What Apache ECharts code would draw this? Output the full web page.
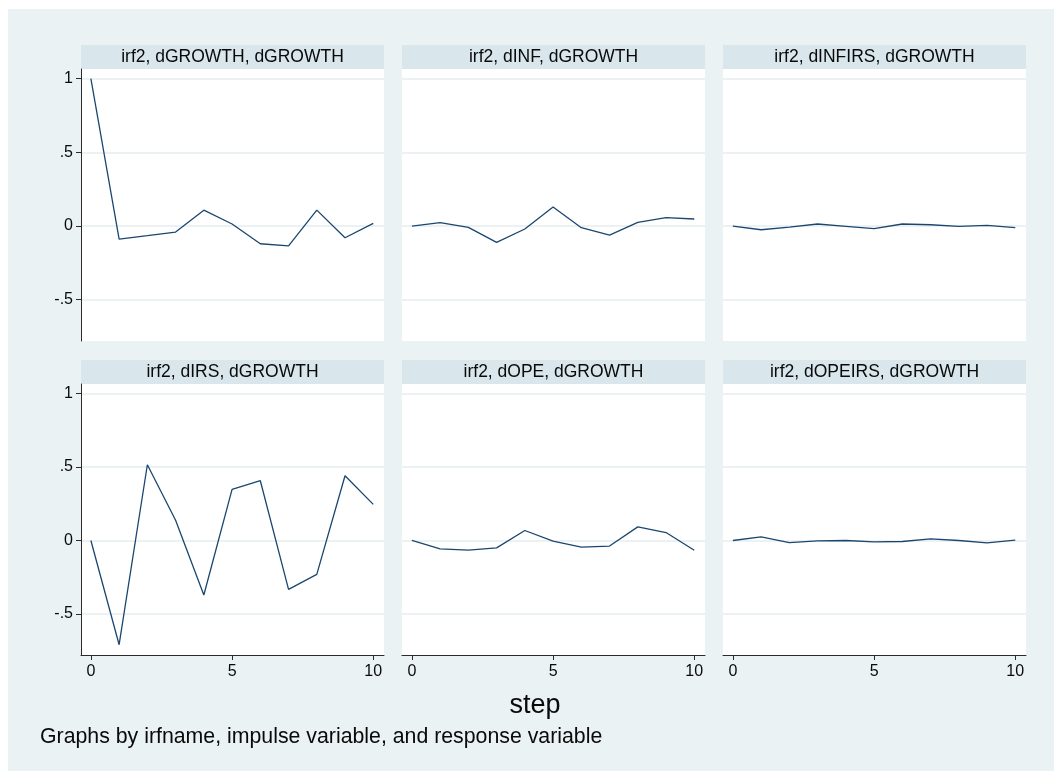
<!DOCTYPE html>
<html>
<head>
<meta charset="utf-8">
<script src="https://cdn.jsdelivr.net/npm/echarts@6/dist/echarts.min.js"></script>
<style>
  html, body { margin: 0; padding: 0; background: #ffffff; }
  #chart { position: absolute; left: 8px; top: 9px; width: 1046px; height: 762px; }
</style>
</head>
<body>
<div id="chart"></div>
<script>
// ---- data ----
const steps = [0, 1, 2, 3, 4, 5, 6, 7, 8, 9, 10];
const panelTitles = [
  'irf2, dGROWTH, dGROWTH', 'irf2, dINF, dGROWTH', 'irf2, dINFIRS, dGROWTH',
  'irf2, dIRS, dGROWTH', 'irf2, dOPE, dGROWTH', 'irf2, dOPEIRS, dGROWTH'
];
const irfGrowth   = [1.0, -0.088, -0.065, -0.041, 0.108, 0.014, -0.120, -0.134, 0.108, -0.079, 0.018];
const irfInf      = [0.0, 0.023, -0.009, -0.111, -0.020, 0.129, -0.011, -0.061, 0.025, 0.057, 0.048];
const irfInfIrs   = [0.0, -0.025, -0.007, 0.014, -0.002, -0.018, 0.014, 0.009, -0.002, 0.005, -0.011];
const irfIrs      = [0.0, -0.710, 0.516, 0.138, -0.371, 0.348, 0.407, -0.333, -0.231, 0.441, 0.246];
const irfOpe      = [0.0, -0.057, -0.066, -0.050, 0.068, -0.005, -0.045, -0.038, 0.093, 0.054, -0.066];
const irfOpeIrs   = [0.0, 0.025, -0.014, -0.002, 0.0, -0.009, -0.007, 0.011, 0.0, -0.016, 0.002];
const xTickValues = [0, 5, 10];
const xTickLabels = ['0', '5', '10'];
const yTickValues = [-0.5, 0, 0.5, 1];
const yTickLabels = ['-.5', '0', '.5', '1'];
const xAxisTitle = 'step';
const noteText = 'Graphs by irfname, impulse variable, and response variable';

// ---- layout ----
const panelSeries = [irfGrowth, irfInf, irfInfIrs, irfIrs, irfOpe, irfOpeIrs];
const colLeft = [73, 394, 715];
const colWidth = 303;
const rowTop = [60, 375];
const rowHeight = [272, 271];
const headerH = 24;
const FONT = '"Liberation Sans", Arial, Helvetica, sans-serif';
const lineColor = '#1a476f';
const axisColor = '#2b2b2b';
const gridColor = '#e6eef1';
const textColor = '#0a0a0a';

const grids = [], xAxes = [], yAxes = [], series = [], graphics = [];
for (let i = 0; i < 6; i++) {
  const r = Math.floor(i / 3), c = i % 3;
  const bottomRow = r === 1, firstCol = c === 0;
  grids.push({
    left: colLeft[c], top: rowTop[r], width: colWidth, height: rowHeight[r],
    show: true, backgroundColor: '#ffffff', borderWidth: 0, containLabel: false
  });
  xAxes.push({
    type: 'value', gridIndex: i, min: -0.35, max: 10.38,
    axisLine: { show: bottomRow, onZero: false, lineStyle: { color: axisColor, width: 1 } },
    axisTick: { show: bottomRow, length: 5, customValues: xTickValues, lineStyle: { color: axisColor, width: 1 } },
    axisLabel: {
      show: bottomRow, customValues: xTickValues, margin: 9,
      fontFamily: FONT, fontSize: 16, color: textColor,
      formatter: v => xTickLabels[xTickValues.indexOf(v)]
    },
    splitLine: { show: false }
  });
  yAxes.push({
    type: 'value', gridIndex: i, min: -0.78, max: 1.066,
    axisLine: { show: firstCol, onZero: false, lineStyle: { color: axisColor, width: 1 } },
    axisTick: { show: firstCol, length: 5, customValues: yTickValues, lineStyle: { color: axisColor, width: 1 } },
    axisLabel: {
      show: firstCol, customValues: yTickValues, margin: 8,
      fontFamily: FONT, fontSize: 16, color: textColor,
      formatter: v => yTickLabels[yTickValues.indexOf(v)]
    },
    splitLine: { show: true, lineStyle: { color: gridColor, width: 1.5 } }
  });
  series.push({
    type: 'line', xAxisIndex: i, yAxisIndex: i,
    data: steps.map((s, k) => [s, panelSeries[i][k]]),
    showSymbol: false, symbol: 'none',
    lineStyle: { color: lineColor, width: 1.3 },
    z: 5
  });
  graphics.push({
    type: 'rect',
    shape: { x: colLeft[c], y: rowTop[r] - headerH, width: colWidth, height: headerH },
    style: { fill: '#d9e6eb' }, silent: true
  });
  graphics.push({
    type: 'text', x: colLeft[c] + colWidth / 2, y: rowTop[r] - headerH / 2 + 0.5,
    style: { text: panelTitles[i], fill: textColor, font: '17.5px ' + FONT, textAlign: 'center', textVerticalAlign: 'middle' },
    silent: true
  });
}
graphics.push({
  type: 'text', x: 527, y: 697,
  style: { text: xAxisTitle, fill: textColor, font: '27px ' + FONT, textAlign: 'center', textVerticalAlign: 'middle' },
  silent: true
});
graphics.push({
  type: 'text', x: 32, y: 728,
  style: { text: noteText, fill: textColor, font: '21.3px ' + FONT, textAlign: 'left', textVerticalAlign: 'middle' },
  silent: true
});

const chart = echarts.init(document.getElementById('chart'), null, { renderer: 'canvas' });
chart.setOption({
  backgroundColor: '#eaf2f3',
  animation: false,
  grid: grids,
  xAxis: xAxes,
  yAxis: yAxes,
  series: series,
  graphic: graphics
});
</script>
</body>
</html>
